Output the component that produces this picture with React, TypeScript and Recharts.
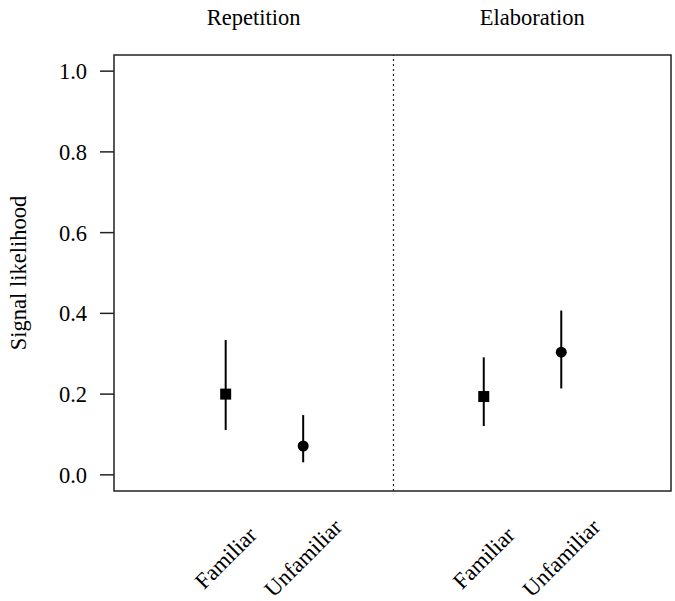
import React from 'react';
import {
  ScatterChart,
  Scatter,
  XAxis,
  YAxis,
  ErrorBar,
  ReferenceLine,
  ReferenceArea,
} from 'recharts';

// ---- data ----
const groups = ['Repetition', 'Elaboration'];
const categories = ['Familiar', 'Unfamiliar', 'Familiar', 'Unfamiliar'];
const groupIndex = [0, 0, 1, 1];
const xPositions = [1, 2, 4.33, 5.33];
const means = [0.2, 0.0715, 0.194, 0.304];
const lowers = [0.111, 0.031, 0.121, 0.214];
const uppers = [0.334, 0.148, 0.291, 0.407];
const yTicks = [0, 0.2, 0.4, 0.6, 0.8, 1.0];

const X_DOMAIN: [number, number] = [-0.441, 6.746];
const Y_DOMAIN: [number, number] = [-0.04, 1.04];

const rows = categories.map((c, i) => ({
  x: xPositions[i],
  y: means[i],
  err: [means[i] - lowers[i], uppers[i] - means[i]],
  cat: c,
  group: groups[groupIndex[i]],
}));
const familiarRows = rows.filter((r) => r.cat === 'Familiar');
const unfamiliarRows = rows.filter((r) => r.cat === 'Unfamiliar');

const FONT = '"Liberation Serif", "Times New Roman", serif';
const FS = 22.5;

const Square = (props: any) => {
  const { cx, cy } = props;
  const s = 11;
  return <rect x={cx - s / 2} y={cy - s / 2} width={s} height={s} fill="#000" />;
};
const Dot = (props: any) => {
  const { cx, cy } = props;
  return <circle cx={cx} cy={cy} r={5.5} fill="#000" />;
};

const XTick = (props: any) => {
  const { x, y, index } = props;
  const label = categories[index] ?? '';
  return (
    <text
      transform={`translate(${x},${y + 67}) rotate(-45)`}
      textAnchor="middle"
      dominantBaseline="central"
      fontFamily={FONT}
      fontSize={FS}
      fill="#000"
    >
      {label}
    </text>
  );
};

const YLabel = (props: any) => {
  const vb = props.viewBox || {};
  const cx = (vb.x ?? 0) + 18;
  const cy = (vb.y ?? 0) + (vb.height ?? 0) / 2;
  return (
    <text
      transform={`translate(${cx},${cy}) rotate(-90)`}
      textAnchor="middle"
      dominantBaseline="central"
      fontFamily={FONT}
      fontSize={FS}
      fill="#000"
    >
      Signal likelihood
    </text>
  );
};

const TitleLabel = (text: string) => (props: any) => {
  const vb = props.viewBox || {};
  const cx = (vb.x ?? 0) + (vb.width ?? 0) / 2;
  const y = (vb.y ?? 0) - 30;
  return (
    <text x={cx} y={y} textAnchor="middle" fontFamily={FONT} fontSize={FS} fill="#000">
      {text}
    </text>
  );
};

const divider = (xPositions[1] + xPositions[2]) / 2;

export default function App() {
  return (
    <div style={{ position: 'absolute', left: 0, top: 0, width: 675, height: 601, background: '#fff' }}>
      <ScatterChart
        width={675}
        height={601}
        margin={{ top: 55, right: 4, left: 0, bottom: 0 }}
      >
        <XAxis
          type="number"
          dataKey="x"
          domain={X_DOMAIN}
          ticks={xPositions}
          allowDataOverflow
          axisLine={false}
          tickLine={false}
          tickSize={0}
          tickMargin={0}
          height={110}
          tick={<XTick />}
          interval={0}
        />
        <YAxis
          type="number"
          dataKey="y"
          domain={Y_DOMAIN}
          ticks={yTicks}
          allowDataOverflow
          width={114}
          axisLine={false}
          tickLine={{ stroke: '#222', strokeWidth: 1.5 }}
          tickSize={14}
          tickMargin={13}
          tickFormatter={(v: number) => v.toFixed(1)}
          tick={{ fontFamily: FONT, fontSize: FS, fill: '#000' }}
          label={<YLabel />}
        />
        <ReferenceArea
          x1={X_DOMAIN[0]}
          x2={divider}
          y1={Y_DOMAIN[0]}
          y2={Y_DOMAIN[1]}
          fill="none"
          stroke="none"
          label={TitleLabel(groups[0])}
          ifOverflow="visible"
        />
        <ReferenceArea
          x1={divider}
          x2={X_DOMAIN[1]}
          y1={Y_DOMAIN[0]}
          y2={Y_DOMAIN[1]}
          fill="none"
          stroke="none"
          label={TitleLabel(groups[1])}
          ifOverflow="visible"
        />
        <ReferenceArea
          x1={X_DOMAIN[0]}
          x2={X_DOMAIN[1]}
          y1={Y_DOMAIN[0]}
          y2={Y_DOMAIN[1]}
          fill="none"
          stroke="#222"
          strokeWidth={1.5}
          fillOpacity={0}
          ifOverflow="visible"
        />
        <ReferenceLine
          x={divider}
          stroke="#222"
          strokeWidth={1.2}
          strokeDasharray="2 3"
        />
        <Scatter data={familiarRows} shape={<Square />} isAnimationActive={false}>
          <ErrorBar dataKey="err" direction="y" width={0} stroke="#000" strokeWidth={2} isAnimationActive={false} />
        </Scatter>
        <Scatter data={unfamiliarRows} shape={<Dot />} isAnimationActive={false}>
          <ErrorBar dataKey="err" direction="y" width={0} stroke="#000" strokeWidth={2} isAnimationActive={false} />
        </Scatter>
      </ScatterChart>
    </div>
  );
}
